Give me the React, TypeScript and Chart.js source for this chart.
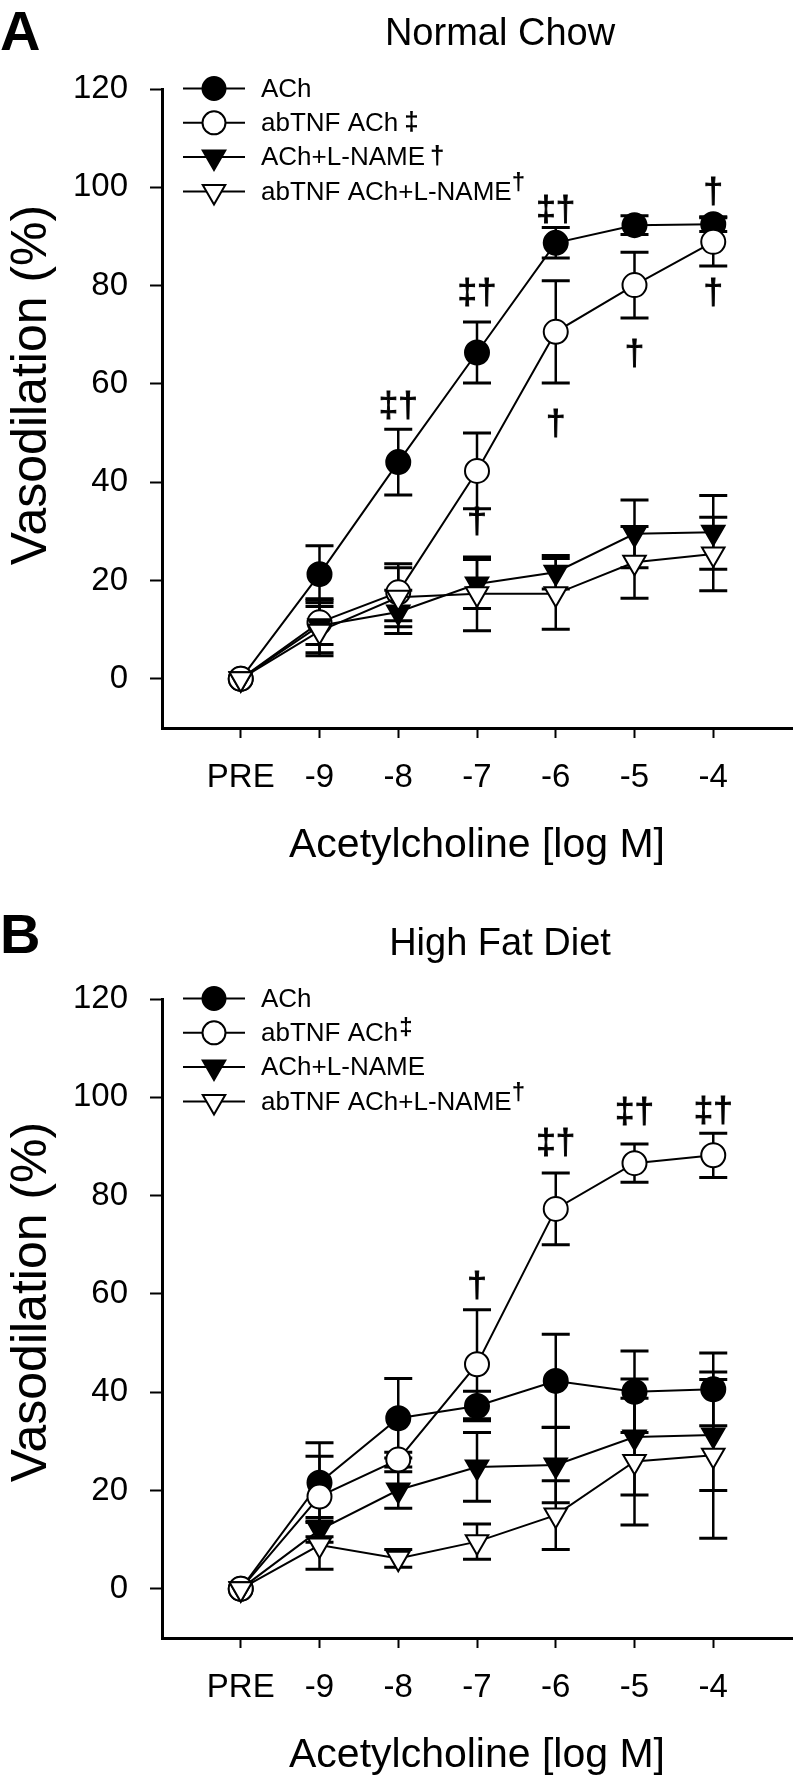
import React, { useEffect, useRef } from 'react';
import { Chart, registerables } from 'chart.js';

Chart.register(...registerables);

const FONT = "'Liberation Sans', Arial, Helvetica, sans-serif";

// ---------- data ----------
const CATEGORIES = ['PRE', '-9', '-8', '-7', '-6', '-5', '-4'];
const Y_TICKS = [0, 20, 40, 60, 80, 100, 120];
const SERIES_LABELS = ['ACh', 'abTNF ACh', 'ACh+L-NAME', 'abTNF ACh+L-NAME'];

// Panel A: Normal Chow (mean, SEM)
const NC_ACH = [0, 21.3, 44.1, 66.4, 88.7, 92.3, 92.5];
const NC_ACH_SEM = [0, 5.8, 6.7, 6.2, 3.1, 1.9, 1.5];
const NC_TNF_ACH = [0, 11.5, 17.6, 42.3, 70.6, 80.1, 88.9];
const NC_TNF_ACH_SEM = [0, 4.5, 5.8, 7.7, 10.4, 6.7, 4.9];
const NC_ACH_LNAME = [0, 10.8, 13.6, 19.3, 21.7, 29.5, 29.8];
const NC_ACH_LNAME_SEM = [0, 5.5, 4.4, 5.0, 3.4, 6.9, 7.5];
const NC_TNF_ACH_LNAME = [0, 9.7, 16.6, 17.3, 17.3, 23.7, 25.4];
const NC_TNF_ACH_LNAME_SEM = [0, 5.0, 6.0, 7.5, 7.2, 7.3, 7.5];

// Panel B: High Fat Diet (mean, SEM)
const HFD_ACH = [0, 21.6, 34.7, 37.2, 42.3, 40.1, 40.6];
const HFD_ACH_SEM = [0, 8.1, 8.1, 3.0, 9.5, 8.3, 7.4];
const HFD_TNF_ACH = [0, 18.8, 26.3, 45.7, 77.3, 86.6, 88.2];
const HFD_TNF_ACH_SEM = [0, 8.2, 1.5, 11.1, 7.3, 3.9, 4.5];
const HFD_ACH_LNAME = [0, 12.0, 20.1, 24.8, 25.2, 30.9, 31.3];
const HFD_ACH_LNAME_SEM = [0, 2.5, 3.7, 7.0, 7.7, 11.8, 11.3];
const HFD_TNF_ACH_LNAME = [0, 8.9, 6.2, 9.6, 15.0, 25.9, 27.2];
const HFD_TNF_ACH_LNAME_SEM = [0, 4.9, 1.8, 3.6, 7.0, 12.9, 16.9];

// significance annotations (category index, text, anchor value)
const NC_NOTE_CATS = [2, 3, 4, 6, 4, 5, 6, 3];
const NC_NOTE_TEXTS = ['‡†', '‡†', '‡†', '†', '†', '†', '†', '†'];
const NC_NOTE_VALUES = [55.6, 78.7, 95.6, 99.1, 52.0, 66.2, 78.7, 32.0];

const HFD_NOTE_CATS = [3, 4, 5, 6];
const HFD_NOTE_TEXTS = ['†', '‡†', '‡†', '‡†'];
const HFD_NOTE_VALUES = [61.8, 90.8, 97.1, 97.3];

// legend significance marks
const NC_LEGEND_MARKS = ['', '‡', '†', '†'];
const HFD_LEGEND_MARKS = ['', '‡', '', '†'];

// ---------- styles ----------
const SERIES_SHAPES = ['circle', 'circle', 'triangle', 'triangle'];
const SERIES_FILLS = ['#000000', '#ffffff', '#000000', '#ffffff'];

type Series = { values: number[]; errors: number[] };
type Panel = {
  letter: string;
  letterBaseline: number;
  title: string;
  top: number;
  height: number;
  series: Series[];
  marks: string[];
  markOffsets: { dx: number; dy: number }[];
  noteCats: number[];
  noteTexts: string[];
  noteValues: number[];
  yTitleCenter: number;
};

const PLOT_TOP = 89;
const PLOT_BOTTOM = 728;

const PANELS: Panel[] = [
  {
    letter: 'A',
    letterBaseline: 50,
    title: 'Normal Chow',
    top: 0,
    height: 910,
    series: [
      { values: NC_ACH, errors: NC_ACH_SEM },
      { values: NC_TNF_ACH, errors: NC_TNF_ACH_SEM },
      { values: NC_ACH_LNAME, errors: NC_ACH_LNAME_SEM },
      { values: NC_TNF_ACH_LNAME, errors: NC_TNF_ACH_LNAME_SEM },
    ],
    marks: NC_LEGEND_MARKS,
    markOffsets: [
      { dx: 0, dy: 0 },
      { dx: 6, dy: -1 },
      { dx: 5, dy: -1 },
      { dx: 0, dy: -9 },
    ],
    noteCats: NC_NOTE_CATS,
    noteTexts: NC_NOTE_TEXTS,
    noteValues: NC_NOTE_VALUES,
    yTitleCenter: 385,
  },
  {
    letter: 'B',
    letterBaseline: 43,
    title: 'High Fat Diet',
    top: 910,
    height: 870,
    series: [
      { values: HFD_ACH, errors: HFD_ACH_SEM },
      { values: HFD_TNF_ACH, errors: HFD_TNF_ACH_SEM },
      { values: HFD_ACH_LNAME, errors: HFD_ACH_LNAME_SEM },
      { values: HFD_TNF_ACH_LNAME, errors: HFD_TNF_ACH_LNAME_SEM },
    ],
    marks: HFD_LEGEND_MARKS,
    markOffsets: [
      { dx: 0, dy: 0 },
      { dx: 1, dy: -5 },
      { dx: 0, dy: 0 },
      { dx: 0, dy: -9 },
    ],
    noteCats: HFD_NOTE_CATS,
    noteTexts: HFD_NOTE_TEXTS,
    noteValues: HFD_NOTE_VALUES,
    yTitleCenter: 392,
  },
];

function drawMarker(
  ctx: CanvasRenderingContext2D,
  shape: string,
  fill: string,
  x: number,
  y: number,
  r: number
) {
  ctx.beginPath();
  if (shape === 'circle') {
    ctx.arc(x, y, r, 0, Math.PI * 2);
  } else {
    ctx.moveTo(x, y + r);
    ctx.lineTo(x - r * Math.sin(Math.PI / 3), y - r * 0.5);
    ctx.lineTo(x + r * Math.sin(Math.PI / 3), y - r * 0.5);
    ctx.closePath();
  }
  ctx.fillStyle = fill;
  ctx.fill();
  ctx.lineWidth = 2;
  ctx.strokeStyle = '#000';
  ctx.stroke();
}

function makeDecor(panel: Panel) {
  return {
    id: 'panelDecor' + panel.letter,
    beforeDatasetsDraw(chart: any) {
      const ctx: CanvasRenderingContext2D = chart.ctx;
      const xs = chart.scales.x;
      const ys = chart.scales.y;
      ctx.save();
      ctx.strokeStyle = '#000';
      panel.series.forEach((s) => {
        s.values.forEach((v, i) => {
          const e = s.errors[i];
          if (!e) return;
          const px = xs.getPixelForValue(i);
          const top = ys.getPixelForValue(v + e);
          const bot = ys.getPixelForValue(v - e);
          ctx.lineWidth = 2.5;
          ctx.beginPath();
          ctx.moveTo(px, top);
          ctx.lineTo(px, bot);
          ctx.stroke();
          ctx.lineWidth = 3;
          ctx.beginPath();
          ctx.moveTo(px - 14, top);
          ctx.lineTo(px + 14, top);
          ctx.moveTo(px - 14, bot);
          ctx.lineTo(px + 14, bot);
          ctx.stroke();
        });
      });
      ctx.restore();
    },
    afterDraw(chart: any) {
      const ctx: CanvasRenderingContext2D = chart.ctx;
      const area = chart.chartArea;
      const xs = chart.scales.x;
      const ys = chart.scales.y;
      ctx.save();
      ctx.fillStyle = '#000';

      // panel letter
      ctx.font = `bold 56px ${FONT}`;
      ctx.textAlign = 'left';
      ctx.textBaseline = 'alphabetic';
      ctx.fillText(panel.letter, 0, panel.letterBaseline);

      // title
      ctx.font = `38px ${FONT}`;
      ctx.textAlign = 'center';
      ctx.fillText(panel.title, 500, 45);

      // x title
      ctx.font = `41px ${FONT}`;
      ctx.fillText('Acetylcholine [log M]', (area.left + area.right) / 2, area.bottom + 129);

      // y title
      ctx.save();
      ctx.translate(32, panel.yTitleCenter);
      ctx.rotate(-Math.PI / 2);
      ctx.font = `50px ${FONT}`;
      ctx.textAlign = 'center';
      ctx.textBaseline = 'middle';
      ctx.fillText('Vasodilation (%)', 0, 0);
      ctx.restore();

      // legend
      const rowY0 = 88.5;
      const rowGap = 34.3;
      SERIES_LABELS.forEach((label, k) => {
        const y = rowY0 + rowGap * k;
        ctx.strokeStyle = '#000';
        ctx.lineWidth = 2;
        ctx.beginPath();
        ctx.moveTo(183, y);
        ctx.lineTo(245, y);
        ctx.stroke();
        drawMarker(ctx, SERIES_SHAPES[k], SERIES_FILLS[k], 214, y, SERIES_SHAPES[k] === 'circle' ? 11.5 : 13);
        ctx.fillStyle = '#000';
        ctx.font = `26px ${FONT}`;
        ctx.textAlign = 'left';
        ctx.textBaseline = 'middle';
        ctx.fillText(label, 261, y + 1);
        const mark = panel.marks[k];
        if (mark) {
          const w = ctx.measureText(label).width;
          const off = panel.markOffsets[k];
          ctx.font = `bold ${off.dy < -3 ? 24 : 26}px ${FONT}`;
          ctx.fillText(mark, 261 + w + off.dx, y + 1 + off.dy);
        }
      });

      // significance notes
      ctx.font = `35px ${FONT}`;
      ctx.textAlign = 'center';
      ctx.textBaseline = 'middle';
      ctx.lineWidth = 0.9;
      ctx.strokeStyle = '#000';
      panel.noteCats.forEach((c, i) => {
        const px = xs.getPixelForValue(c);
        const py = ys.getPixelForValue(panel.noteValues[i]) + 2;
        ctx.fillText(panel.noteTexts[i], px, py);
        ctx.strokeText(panel.noteTexts[i], px, py);
      });

      ctx.restore();
    },
  };
}

function PanelChart({ panel }: { panel: Panel }) {
  const ref = useRef<HTMLCanvasElement>(null);
  useEffect(() => {
    const canvas = ref.current;
    if (!canvas) return;
    const chart = new Chart(canvas, {
      type: 'line',
      data: {
        datasets: panel.series.map((s, k) => ({
          label: SERIES_LABELS[k],
          data: s.values.map((v, i) => ({ x: i, y: v })),
          borderColor: '#000',
          borderWidth: 2,
          pointStyle: SERIES_SHAPES[k] as any,
          pointRotation: SERIES_SHAPES[k] === 'triangle' ? 180 : 0,
          pointRadius: SERIES_SHAPES[k] === 'circle' ? 12 : 13,
          pointBackgroundColor: SERIES_FILLS[k],
          pointBorderColor: '#000',
          pointBorderWidth: 2,
          order: 4 - k,
          tension: 0,
          fill: false,
          clip: false as any,
        })),
      },
      options: {
        responsive: false,
        maintainAspectRatio: false,
        animation: false,
        events: [],
        layout: { padding: { left: 0, top: PLOT_TOP, right: 6, bottom: 0 } },
        plugins: {
          legend: { display: false },
          tooltip: { enabled: false },
          title: { display: false },
        },
        scales: {
          x: {
            type: 'linear',
            min: -1,
            max: 7,
            afterBuildTicks: (s: any) => {
              s.ticks = CATEGORIES.map((_, i) => ({ value: i }));
            },
            afterFit: (s: any) => {
              s.height = panel.height - PLOT_BOTTOM;
            },
            ticks: {
              callback: (v: any) => CATEGORIES[Number(v)] ?? '',
              font: { family: FONT, size: 33 },
              color: '#000',
              padding: 20,
              maxRotation: 0,
              autoSkip: false,
            },
            grid: {
              display: true,
              drawOnChartArea: false,
              drawTicks: true,
              tickLength: 10,
              tickWidth: 2,
              tickColor: '#000',
            },
            border: { display: true, color: '#000', width: 3 },
          },
          y: {
            type: 'linear',
            min: -10,
            max: 120,
            afterBuildTicks: (s: any) => {
              s.ticks = Y_TICKS.map((v) => ({ value: v }));
            },
            afterFit: (s: any) => {
              s.width = 162;
            },
            ticks: {
              font: { family: FONT, size: 33 },
              color: '#000',
              padding: 22,
            },
            grid: {
              display: true,
              drawOnChartArea: false,
              drawTicks: true,
              tickLength: 12,
              tickWidth: 2,
              tickColor: '#000',
            },
            border: { display: true, color: '#000', width: 3 },
          },
        },
      },
      plugins: [makeDecor(panel)],
    } as any);
    return () => chart.destroy();
  }, [panel]);
  return (
    <canvas
      ref={ref}
      width={807}
      height={panel.height}
      style={{
        position: 'absolute',
        left: 0,
        top: panel.top,
        width: 807,
        height: panel.height,
        display: 'block',
      }}
    />
  );
}

export default function App() {
  return (
    <div
      style={{
        position: 'absolute',
        left: 0,
        top: 0,
        width: 807,
        height: 1780,
        background: '#ffffff',
        overflow: 'hidden',
      }}
    >
      {PANELS.map((p) => (
        <PanelChart key={p.letter} panel={p} />
      ))}
    </div>
  );
}
